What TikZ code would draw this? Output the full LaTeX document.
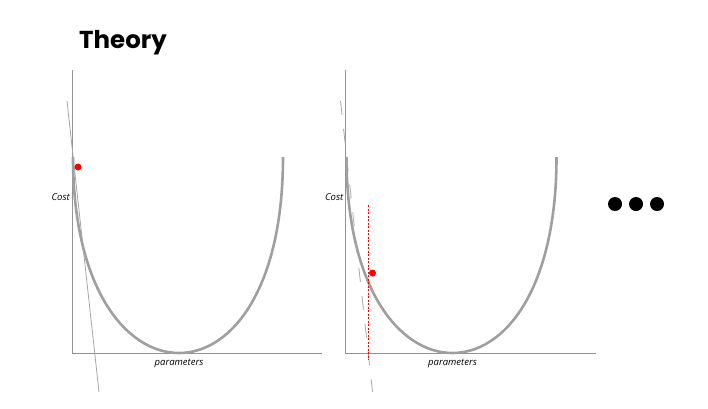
\documentclass[tikz,border=0pt]{standalone}
\usepackage{fontspec}
\setsansfont{Open Sans}
\newfontfamily\titlefont{Poppins}
\usetikzlibrary{positioning, calc}

\begin{document}
\begin{tikzpicture}[
  x=1pt, y=-1pt,
  axis/.style={draw=gray!85, line width=0.9pt},
  costcurve/.style={draw=gray!75, line width=2.6pt},
  tangent/.style={draw=gray!70, line width=0.8pt},
  tangentdash/.style={tangent, dash pattern=on 14pt off 14pt},
  reddot/.style={circle, fill=red, inner sep=0pt, minimum size=7pt},
  guide/.style={draw=red, line width=0.9pt, dash pattern=on 2pt off 1.5pt},
  morestep/.style={circle, fill=black, inner sep=0pt, minimum size=14pt},
  axislabel/.style={font=\sffamily\itshape\fontsize{9.5}{10}\selectfont, inner sep=1pt}
]
\useasboundingbox (0,0) rectangle (708,408);

\node[font=\titlefont\bfseries\fontsize{24.5}{28}\selectfont, anchor=base west, inner sep=0pt]
  (title) at (79,48) {Theory};

% first plot
\coordinate (origA) at (72,353);
\draw[axis] (72,70) -- (origA) -- (322,353);
\draw[costcurve] (73,157) .. controls (73,289) and (126.5,353) .. (179,353)
  .. controls (231.5,353) and (283,289) .. (283,157);
\draw[tangent] (67,101) -- (99,392);
\node[reddot] (ptA) at (78,167) {};
\node[axislabel, anchor=east] (costA) at (71,197) {Cost};
\node[axislabel] (parA) at (179,363) {parameters};

% second plot
\begin{scope}[xshift=273.5pt]
\coordinate (origB) at (72,353);
\draw[axis] (72,70) -- (origB) -- (322,353);
\draw[costcurve] (73,157) .. controls (73,289) and (126.5,353) .. (179,353)
  .. controls (231.5,353) and (283,289) .. (283,157);
\draw[tangentdash] (67,101) -- (99,392);
\coordinate (guideTop) at (95,205);
\coordinate (guideBot) at (95,360);
\draw[guide] (guideTop) -- (guideBot);
\node[reddot] (ptB) at (99,273) {};
\node[axislabel, anchor=east] (costB) at (71,197) {Cost};
\node[axislabel] (parB) at (179,363) {parameters};
\end{scope}

% more steps
\foreach \i/\x in {1/615, 2/636, 3/657}
  \node[morestep] (more\i) at (\x,204) {};

\end{tikzpicture}
\end{document}
